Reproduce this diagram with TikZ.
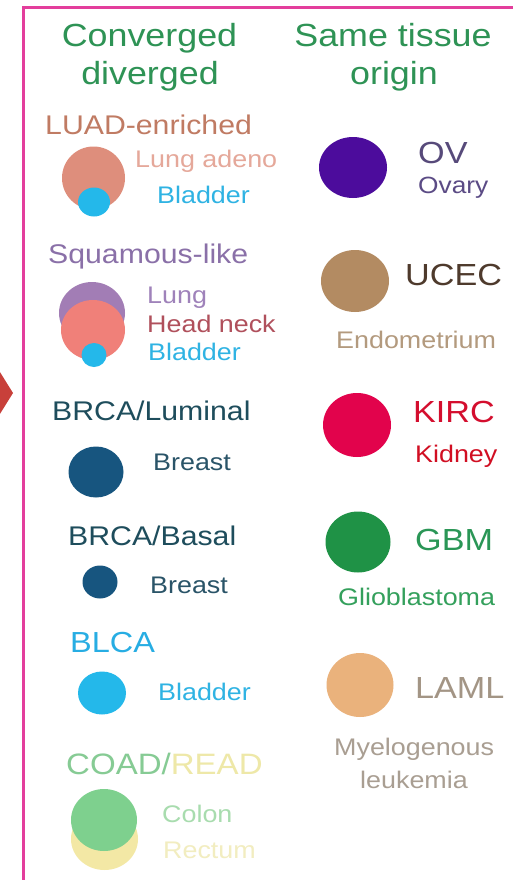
\documentclass[tikz,border=0pt]{standalone}
\usepackage{fontspec}
\setmainfont[FakeStretch=1.12]{Liberation Sans}
\definecolor{frame}{HTML}{E33E9C}
\definecolor{arrowred}{HTML}{C8403A}
\definecolor{headgreen}{HTML}{2E9355}
\definecolor{luadtxt}{HTML}{C07B63}
\definecolor{luadfill}{HTML}{DE8E7C}
\definecolor{lungadeno}{HTML}{E5A89A}
\definecolor{bladder}{HTML}{24B8EA}
\definecolor{bladdertxt}{HTML}{2FB3E3}
\definecolor{squamtxt}{HTML}{8A70A8}
\definecolor{squamfill}{HTML}{A27DB5}
\definecolor{lungtxt}{HTML}{9F82BA}
\definecolor{hnfill}{HTML}{F08079}
\definecolor{hntxt}{HTML}{B0505C}
\definecolor{brcatxt}{HTML}{1E4D5C}
\definecolor{brcafill}{HTML}{17557F}
\definecolor{breasttxt}{HTML}{2A5468}
\definecolor{blcatxt}{HTML}{27ADE3}
\definecolor{coadtxt}{HTML}{86CB94}
\definecolor{readtxt}{HTML}{EEE8A8}
\definecolor{coadfill}{HTML}{7ED08E}
\definecolor{readfill}{HTML}{F3E8A5}
\definecolor{colontxt}{HTML}{A8DCAE}
\definecolor{rectumtxt}{HTML}{F2EDC0}
\definecolor{ovfill}{HTML}{4C0C9C}
\definecolor{ovtxt}{HTML}{574A7A}
\definecolor{ovarytxt}{HTML}{5B4B85}
\definecolor{ucecfill}{HTML}{B38B62}
\definecolor{ucectxt}{HTML}{4E3A2C}
\definecolor{endotxt}{HTML}{B39A7E}
\definecolor{kircfill}{HTML}{E2034C}
\definecolor{kirctxt}{HTML}{D40E2E}
\definecolor{kidneytxt}{HTML}{D10E22}
\definecolor{gbmfill}{HTML}{1F9246}
\definecolor{gbmtxt}{HTML}{2A9656}
\definecolor{gliotxt}{HTML}{34A05C}
\definecolor{lamlfill}{HTML}{EAB27C}
\definecolor{lamltxt}{HTML}{A39585}
\definecolor{myelotxt}{HTML}{A99E92}
\usetikzlibrary{shapes.geometric}
\tikzset{
  blob/.style={ellipse,inner sep=0pt,draw=none},
  head_txt/.style={anchor=base,inner sep=0pt,text=headgreen,font=\fontsize{32}{38}\selectfont},
  grp_txt/.style={anchor=base west,inner sep=0pt,font=\fontsize{27}{32}\selectfont},
  abbr_txt/.style={anchor=base west,inner sep=0pt,font=\fontsize{30.5}{36}\selectfont},
  org_txt/.style={anchor=base west,inner sep=0pt,font=\fontsize{24}{29}\selectfont},
}

\begin{document}
\begin{tikzpicture}[x=1pt,y=-1pt]
    \useasboundingbox (0,0) rectangle (513,880);
    \fill[white] (0,0) rectangle (513,880);
    \begin{scope}
    \clip (0,0) rectangle (513,880);
    \draw[frame,line width=3pt] (23,8) rectangle (540,900);
    \fill[arrowred] (-20,340) -- (13,393) -- (-20,446) -- cycle;
    \end{scope}

    % column heads
    \node[head_txt] (convA) at (149.5,47) {Converged};
    \node[head_txt] (convB) at (150,85) {diverged};
    \node[head_txt] (sameA) at (393,47) {Same tissue};
    \node[head_txt] (sameB) at (394,85) {origin};

    % converged / diverged groups
    \node[grp_txt,text=luadtxt] (luad) at (45,135) {LUAD-enriched};
    \node[blob,fill=luadfill,minimum width=63pt,minimum height=63pt] (luadbig) at (93.5,178) {};
    \node[blob,fill=bladder,minimum width=32pt,minimum height=29pt] (luadbl) at (94,202) {};
    \node[org_txt,text=lungadeno] (luadlung) at (135,167) {Lung adeno};
    \node[org_txt,text=bladdertxt] (luadblad) at (157,203) {Bladder};

    \node[grp_txt,text=squamtxt] (squam) at (48,263) {Squamous-like};
    \node[blob,fill=squamfill,minimum width=66pt,minimum height=62pt] (sqlung) at (92,313) {};
    \node[blob,fill=hnfill,minimum width=64pt,minimum height=60pt] (sqhn) at (93,330) {};
    \node[blob,fill=bladder,minimum width=25pt,minimum height=24pt] (sqbl) at (94,355) {};
    \node[org_txt,text=lungtxt] (sqlungt) at (147,303) {Lung};
    \node[org_txt,text=hntxt] (sqhnt) at (147,332) {Head neck};
    \node[org_txt,text=bladdertxt] (sqblt) at (148,360) {Bladder};

    \node[grp_txt,text=brcatxt] (lumi) at (52,420) {BRCA/Luminal};
    \node[blob,fill=brcafill,minimum width=55pt,minimum height=51pt] (lumidot) at (96,472) {};
    \node[org_txt,text=breasttxt] (lumibr) at (153,470) {Breast};

    \node[grp_txt,text=brcatxt] (basal) at (68,545) {BRCA/Basal};
    \node[blob,fill=brcafill,minimum width=35pt,minimum height=33pt] (basaldot) at (100,582) {};
    \node[org_txt,text=breasttxt] (basalbr) at (150,593) {Breast};

    \node[abbr_txt,text=blcatxt,font=\fontsize{29}{34}\selectfont] (blca) at (70,652) {BLCA};
    \node[blob,fill=bladder,minimum width=48pt,minimum height=43pt] (blcadot) at (102,693) {};
    \node[org_txt,text=bladdertxt] (blcabl) at (158,700) {Bladder};

    \node[abbr_txt,font=\fontsize{29.5}{34}\selectfont] (coad) at (66,774) {{\color{coadtxt}COAD/}{\color{readtxt}READ}};
    \node[blob,fill=readfill,minimum width=67pt,minimum height=62pt] (readdot) at (104.5,839) {};
    \node[blob,fill=coadfill,minimum width=66pt,minimum height=62pt] (coaddot) at (104,820) {};
    \node[org_txt,text=colontxt] (colon) at (162,822) {Colon};
    \node[org_txt,text=rectumtxt] (rectum) at (163,858) {Rectum};

    % same tissue origin
    \node[blob,fill=ovfill,minimum width=68pt,minimum height=61pt] (ovdot) at (353,167.5) {};
    \node[abbr_txt,text=ovtxt] (ov) at (418,163) {OV};
    \node[org_txt,text=ovarytxt,font=\fontsize{23.5}{28}\selectfont] (ovary) at (418,193) {Ovary};

    \node[blob,fill=ucecfill,minimum width=68pt,minimum height=62pt] (ucecdot) at (355,281) {};
    \node[abbr_txt,text=ucectxt] (ucec) at (405,285) {UCEC};
    \node[org_txt,text=endotxt] (endo) at (336,348) {Endometrium};

    \node[blob,fill=kircfill,minimum width=68pt,minimum height=64pt] (kircdot) at (357,425) {};
    \node[abbr_txt,text=kirctxt] (kirc) at (413,422) {KIRC};
    \node[org_txt,text=kidneytxt] (kidney) at (415,462) {Kidney};

    \node[blob,fill=gbmfill,minimum width=65pt,minimum height=61pt] (gbmdot) at (358,542) {};
    \node[abbr_txt,text=gbmtxt] (gbm) at (415,550) {GBM};
    \node[org_txt,text=gliotxt] (glio) at (338,605) {Glioblastoma};

    \node[blob,fill=lamlfill,minimum width=67pt,minimum height=64pt] (lamldot) at (360,685) {};
    \node[abbr_txt,text=lamltxt] (laml) at (415,698) {LAML};
    \node[org_txt,text=myelotxt] (myeloA) at (334,755) {Myelogenous};
    \node[org_txt,text=myelotxt] (myeloB) at (360,788) {leukemia};
\end{tikzpicture}
\end{document}
